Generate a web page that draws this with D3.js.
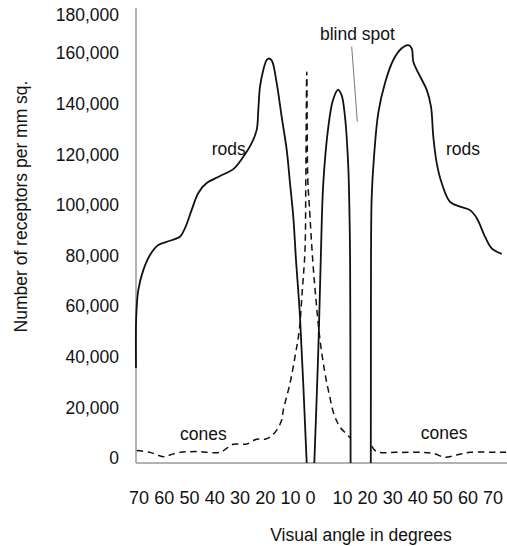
<!DOCTYPE html>
<html>
<head>
<meta charset="utf-8">
<script src="https://cdn.jsdelivr.net/npm/d3@7"></script>
<style>
  html, body { margin: 0; padding: 0; background: #fff; }
  text { font-family: "Liberation Sans", Arial, Helvetica, sans-serif; fill: #111; }
</style>
</head>
<body>
<svg id="chart" width="507" height="546"></svg>
<script>
// ---- data (visual angle in degrees: temporal negative, nasal positive) ----
const xTickValues = [-70, -60, -50, -40, -30, -20, -10, 0, 10, 20, 30, 40, 50, 60, 70];
const yTickValues = [0, 20000, 40000, 60000, 80000, 100000, 120000, 140000, 160000, 180000];

// rods density (null = break in the curve)
const rodsAngle = [
  -71.19, -71.1, -70.28, -68.3, -65.64, -62.36, -57.72, -53.76, -51.78, -49.13,
  -46.51, -43.19, -37.92, -32.65, -28.69, -25.37, -23.39, -22.75, -22.08, -20.77,
  -19.43, -18.51, -17.33, -15.47, -13.49, -11.5, -10.2, -8.6, -7.25, -5.25, -1.9,
  null,
  1.19, 2.44, 3.28, 4.0, 5.56, 7.03, 8.59, 9.69, 11.0, 12.31, 12.79, 13.03, 13.15, 13.23,
  null,
  21.28, 21.32, 21.36, 21.64, 22.56, 24.27, 26.94, 30.25, 33.6, 36.23, 37.59, 38.23,
  40.22, 43.57, 45.28, 46.2, 47.56, 49.55, 52.86, 56.84, 60.83, 63.5, 66.81, 69.48, 73.47
];
const rodsDensity = [
  37500, 57700, 68300, 76200, 82200, 86100, 87800, 89400, 92800, 100000,
  106700, 110600, 113400, 116100, 121000, 126400, 131600, 139500, 148700, 155300,
  159200, 159800, 158800, 150100, 136700, 123700, 110600, 97200, 80200, 57700, 0,
  null,
  0, 44600, 84100, 110600, 132700, 143400, 147400, 145400, 136700, 116900, 98000, 80200, 40000, 0,
  null,
  0, 40000, 80200, 105200, 121000, 138300, 150100, 159200, 165100, 166800, 165100, 158500,
  154100, 147400, 140800, 128900, 118500, 110600, 103200, 101300, 99900, 96800, 89400, 84800, 82600
];

// cones density (null = blind spot)
const conesAngle = [
  -70.91, -65.64, -60.38, -57.72, -53.76, -47.15, -37.92, -35.27, -32.65, -27.35,
  -23.39, -20.1, -18.12, -15.47, -13.49, -12.85, -10.2, -7.75, -5.6, -4.1, -2.75,
  -2.35, -1.85, -1.35, -0.6, 0.69, 1.72, 2.97, 4.53, 6.09, 7.13, 8.19, 9.22, 11.0, 13.27,
  null,
  21.64, 23.63, 31.61, 42.21, 46.2, 50.86, 55.53, 60.83, 72.79, 75.18
];
const conesDensity = [
  4900, 4200, 2500, 3200, 4200, 4500, 4200, 5800, 7400, 7500,
  9400, 9400, 10200, 13000, 17000, 20900, 31500, 42000, 52500, 68300, 84100,
  111800, 154500, 111800, 101900, 80200, 64400, 48600, 35400, 25700, 20100, 16600, 14200, 12000, 9800,
  null,
  6700, 4500, 4200, 4200, 3800, 2300, 3200, 4200, 4200, 4200
];

// ---- layout ----
const svg = d3.select("#chart");
const axisLeft = 136, axisRight = 507, axisTop = 8;

const x = d3.scaleLinear()
  .domain([-70, -10, 0, 10, 70])
  .range([139, 290.5, 310.5, 342.5, 493]);
const y = d3.scaleLinear()
  .domain([0, 160000, 180000])
  .range([463, 58, 20]);

const fontSize = 17.5;

// axes lines
svg.append("line")
  .attr("x1", axisLeft).attr("x2", axisLeft)
  .attr("y1", axisTop).attr("y2", y(0))
  .attr("stroke", "#999").attr("stroke-width", 1.5);
svg.append("line")
  .attr("x1", axisLeft).attr("x2", axisRight)
  .attr("y1", y(0)).attr("y2", y(0))
  .attr("stroke", "#999").attr("stroke-width", 1.5);

// y tick labels
svg.append("g").selectAll("text").data(yTickValues).join("text")
  .attr("x", 119)
  .attr("y", d => y(d) - 5)
  .attr("dy", "0.36em")
  .attr("text-anchor", "end")
  .attr("font-size", fontSize)
  .text(d => d3.format(",")(d));

// x tick labels
svg.append("g").selectAll("text").data(xTickValues).join("text")
  .attr("x", d => x(d))
  .attr("y", 503.5)
  .attr("text-anchor", "middle")
  .attr("font-size", 18)
  .text(d => Math.abs(d));

// axis titles
svg.append("text")
  .attr("transform", "translate(26.5,206.5) rotate(-90)")
  .attr("text-anchor", "middle")
  .attr("font-size", fontSize)
  .text("Number of receptors per mm sq.");
svg.append("text")
  .attr("x", 361).attr("y", 541)
  .attr("text-anchor", "middle")
  .attr("font-size", fontSize)
  .text("Visual angle in degrees");

// curves
const line = d3.line()
  .defined(d => d[0] != null && d[1] != null)
  .x(d => x(d[0]))
  .y(d => y(d[1]))
  .curve(d3.curveCatmullRom.alpha(0.5));

const rods = rodsAngle.map((a, i) => [a, rodsDensity[i]]);
const cones = conesAngle.map((a, i) => [a, conesDensity[i]]);

svg.append("path")
  .datum(cones)
  .attr("d", line)
  .attr("fill", "none")
  .attr("stroke", "#111")
  .attr("stroke-width", 1.5)
  .attr("stroke-dasharray", "6.5,4.5");

svg.append("path")
  .datum(rods)
  .attr("d", line)
  .attr("fill", "none")
  .attr("stroke", "#111")
  .attr("stroke-width", 1.8);

// annotations
svg.append("line")
  .attr("x1", 351.7).attr("y1", 46.7)
  .attr("x2", 357.3).attr("y2", 121.7)
  .attr("stroke", "#777").attr("stroke-width", 1);

const notes = [
  { t: "rods", x: 211.7, y: 155 },
  { t: "rods", x: 446, y: 155 },
  { t: "blind spot", x: 320, y: 40 },
  { t: "cones", x: 180, y: 439.5 },
  { t: "cones", x: 420.7, y: 439 }
];
svg.append("g").selectAll("text").data(notes).join("text")
  .attr("x", d => d.x).attr("y", d => d.y)
  .attr("font-size", fontSize)
  .text(d => d.t);
</script>
</body>
</html>
